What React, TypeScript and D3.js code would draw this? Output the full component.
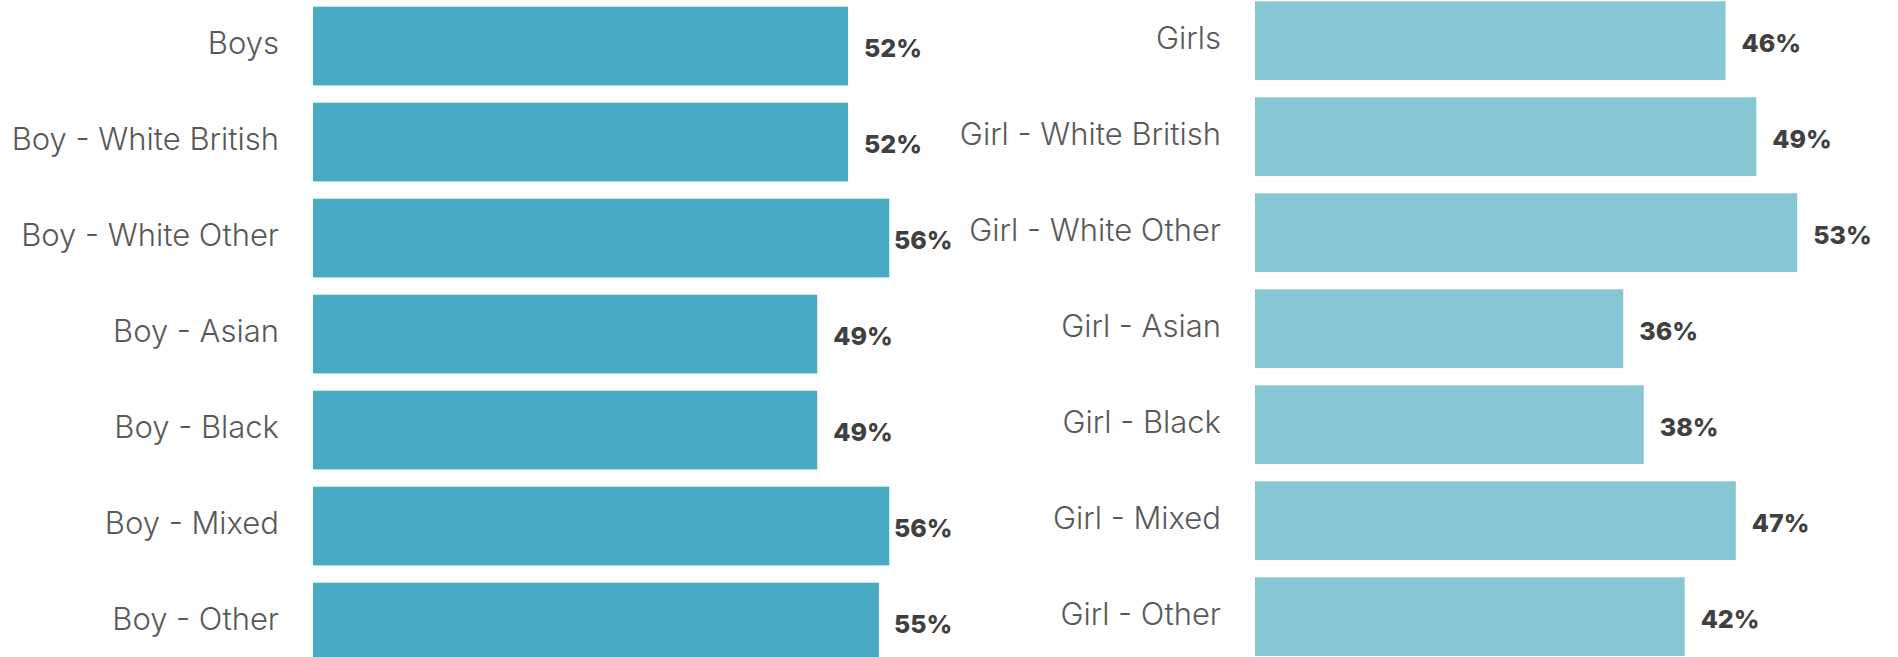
import React from "react";
import * as d3 from "d3";

const boyCategories = ["Boys", "Boy - White British", "Boy - White Other", "Boy - Asian", "Boy - Black", "Boy - Mixed", "Boy - Other"];
const boyValues = [52, 52, 56, 49, 49, 56, 55];
const girlCategories = ["Girls", "Girl - White British", "Girl - White Other", "Girl - Asian", "Girl - Black", "Girl - Mixed", "Girl - Other"];
const girlValues = [46, 49, 53, 36, 38, 47, 42];

const W = 1898;
const H = 657;

type PanelProps = {
  cats: string[];
  vals: number[];
  barX: number;
  top: number;
  color: string;
  pxPerPct: number;
  labelEnd: number;
  valueMax: number;
};

function Panel({ cats, vals, barX, top, color, pxPerPct, labelEnd, valueMax }: PanelProps) {
  const step = 96;
  const pad = 0.18;
  const y = d3
    .scaleBand<string>()
    .domain(cats)
    .range([top, top + step * (cats.length - pad)])
    .paddingInner(pad)
    .paddingOuter(0);
  const x = d3.scaleLinear().domain([0, 100]).range([barX, barX + pxPerPct * 100]);
  const bw = y.bandwidth();
  return (
    <g>
      {cats.map((c, i) => {
        const yy = y(c)!;
        const cy = yy + bw / 2;
        const end = x(vals[i]);
        const lx = Math.min(end + 16, valueMax);
        return (
          <g key={c}>
            <rect x={x(0)} y={yy} width={end - x(0)} height={bw} fill={color} />
            <text
              x={labelEnd}
              y={cy + 8.4}
              textAnchor="end"
              fontFamily="Inter, 'Noto Sans', sans-serif"
              fontWeight={300}
              fontSize={31}
              fill="#595959"
            >
              {c}
            </text>
            <text
              x={lx}
              y={cy + 11.3}
              fontFamily="Inter, 'Noto Sans', sans-serif"
              fontWeight={800}
              fontSize={25}
              fill="#404040"
            >
              {d3.format("d")(vals[i])}%
            </text>
          </g>
        );
      })}
    </g>
  );
}

export default function App() {
  return (
    <div style={{ position: "fixed", left: 0, top: 0 }}>
      <svg width={W} height={H} style={{ display: "block", background: "#fff" }}>
        <Panel
          cats={boyCategories}
          vals={boyValues}
          barX={313}
          top={6.7}
          color="#48a9c2"
          pxPerPct={10.29}
          labelEnd={279}
          valueMax={894}
        />
        <Panel
          cats={girlCategories}
          vals={girlValues}
          barX={1255}
          top={1.3}
          color="#87c6d5"
          pxPerPct={10.23}
          labelEnd={1221}
          valueMax={9999}
        />
      </svg>
    </div>
  );
}
